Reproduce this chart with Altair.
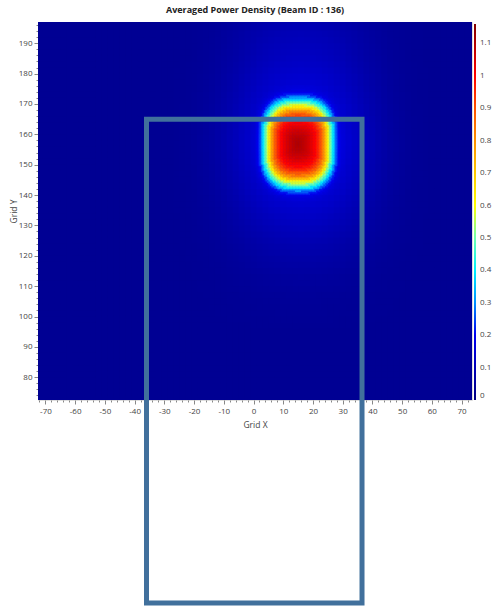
import altair as alt
import pandas as pd

# ---- axis ranges / labels ----
x_domain = [-72.5, 73.5]
y_domain = [72.5, 197.0]
x_tick_values = list(range(-72, 74, 2))
y_tick_values = list(range(74, 198, 2))
legend_values = [0, 0.1, 0.2, 0.3, 0.4, 0.5, 0.6, 0.7, 0.8, 0.9, 1, 1.1]

# ---- colour map (jet-like) ----
color_stops = [0, 0.1, 0.2, 0.3, 0.4, 0.5, 0.6, 0.7, 0.8, 0.9, 1.0, 1.16]
color_range = ["#00007f", "#0000b8", "#0000f0", "#0090ff", "#00f0ff", "#70ffb0",
               "#ffff00", "#ffc800", "#ff9000", "#ff5000", "#ff0000", "#800000"]

# ---- background level and broad halo ----
base_level = 0.035
halo_peak = 0.17
halo_center = (16, 157)
# halo profile by |dx| in steps of 2 grid units
halo_x = [1.0, 0.99, 0.97, 0.94, 0.90, 0.85, 0.79, 0.72, 0.64, 0.56, 0.48,
          0.40, 0.33, 0.26, 0.20, 0.15, 0.11, 0.08, 0.05, 0.03, 0.02, 0.01, 0.0]
# halo profile above / below the beam centre, steps of 2 grid units
halo_y_up = [1.0, 0.99, 0.97, 0.94, 0.90, 0.86, 0.82, 0.78, 0.74, 0.70, 0.66,
             0.62, 0.58, 0.54, 0.50, 0.47, 0.44, 0.41, 0.38, 0.35, 0.32]
halo_y_down = [1.0, 0.99, 0.97, 0.94, 0.90, 0.86, 0.82, 0.78, 0.73, 0.68, 0.63,
               0.58, 0.53, 0.48, 0.43, 0.38, 0.33, 0.29, 0.25, 0.21, 0.18,
               0.15, 0.12, 0.10, 0.08, 0.06, 0.05, 0.04, 0.03, 0.02, 0.01, 0.0]

# ---- main beam spot ----
beam_peak = 1.10
beam_center = (15.0, 156.8)
beam_aspect_y = 1.22      # spot is taller than wide
beam_shape_power = 2.8    # rounded-square contour
# radial profile of the spot, sampled every 0.5 grid units from the centre
beam_profile = [1.000, 0.998, 0.993, 0.987, 0.980, 0.972, 0.963, 0.953, 0.942,
                0.930, 0.917, 0.902, 0.885, 0.862, 0.835, 0.800, 0.760, 0.710,
                0.650, 0.580, 0.500, 0.430, 0.370, 0.310, 0.240, 0.170, 0.110,
                0.065, 0.035, 0.018, 0.008, 0.003, 0.0]

# ---- overlay rectangle ----
box_x = [-36.0, 36.5]
box_y = [5.6, 165.0]


def pick(arr, i):
    return arr[i] if 0 <= i < len(arr) else 0.0


def halo_value(cx, cy):
    hx = pick(halo_x, abs(cx - halo_center[0]) // 2)
    dy = cy - halo_center[1]
    hy = pick(halo_y_up, dy // 2) if dy >= 0 else pick(halo_y_down, (-dy) // 2)
    return base_level + halo_peak * hx * hy


rows = []
ov = 0.3
for cx in range(-72, 75, 2):
    for cy in range(73, 198, 2):
        rows.append(dict(x=cx - 1, x2=cx + 1 + ov, y=cy - 1, y2=cy + 1 + ov,
                         v=halo_value(cx, cy)))

step = 0.5
for i in range(int(-6 / step), int(36 / step)):
    gx = i * step
    for j in range(int(130 / step), int(184 / step)):
        gy = j * step
        dx = abs(gx + step / 2 - beam_center[0])
        dy = abs(gy + step / 2 - beam_center[1]) / beam_aspect_y
        r = (dx ** beam_shape_power + dy ** beam_shape_power) ** (1 / beam_shape_power)
        f = pick(beam_profile, int(round(r / 0.5)))
        if f <= 0:
            continue
        bx = int(gx // 1)
        by = int(gy // 1)
        b = halo_value(bx + (bx % 2), by + (1 - by % 2))
        rows.append(dict(x=gx, x2=gx + step + 0.15, y=gy, y2=gy + step + 0.15,
                         v=b + (beam_peak - b) * f))
df = pd.DataFrame(rows)

box_df = pd.DataFrame([dict(x=box_x[0], x2=box_x[1], y=box_y[0], y2=box_y[1])])

font = "Open Sans"
label_color = "#444444"
label_expr = "datum.value % 10 === 0 ? '' + datum.value : ''"
tick_size = {"condition": {"test": "datum.value % 10 === 0", "value": 4}, "value": 2}


def make_axis(values, title, label_pad, title_pad, **kw):
    return alt.Axis(values=values, title=title, labelExpr=label_expr,
                    tickSize=tick_size, tickColor="#888888", domain=False, grid=False,
                    labelOverlap=False, labelFlush=False, labelFontSize=8,
                    labelColor=label_color, labelFont=font, labelPadding=label_pad,
                    titleFontSize=8.5, titleFontWeight="normal", titleColor=label_color,
                    titleFont=font, titlePadding=title_pad, **kw)


xs = alt.Scale(domain=x_domain, nice=False, zero=False)
ys = alt.Scale(domain=y_domain, nice=False, zero=False)


def x_axis():
    return make_axis(x_tick_values, "Grid X", 3, 5)


def y_axis():
    return make_axis(y_tick_values, "Grid Y", 2, 1, titleX=-20)


heat = alt.Chart(df).mark_rect(clip=True, strokeWidth=0).encode(
    x=alt.X("x:Q", scale=xs, axis=x_axis()),
    x2="x2:Q",
    y=alt.Y("y:Q", scale=ys, axis=y_axis()),
    y2="y2:Q",
    color=alt.Color("v:Q",
                    scale=alt.Scale(domain=color_stops, range=color_range, interpolate="rgb"),
                    legend=alt.Legend(orient="none", legendX=436, legendY=2, direction="vertical",
                                      gradientLength=376, gradientThickness=2,
                                      gradientStrokeWidth=0, values=legend_values,
                                      labelExpr="'' + datum.value",
                                      labelFontSize=8, labelColor=label_color, labelFont=font,
                                      labelOffset=4, labelBaseline="middle", title=None,
                                      labelOverlap=False)),
)

box = alt.Chart(box_df).mark_rect(filled=False, stroke="#41709c", strokeWidth=5).encode(
    x=alt.X("x:Q", scale=xs, axis=x_axis()),
    x2="x2:Q",
    y=alt.Y("y:Q", scale=ys, axis=y_axis()),
    y2="y2:Q",
)

chart = alt.layer(heat, box).properties(
    width=434, height=378,
    title=alt.Title("Averaged Power Density (Beam ID : 136)", fontSize=9, fontWeight="bold",
                    font=font, color="#222222", anchor="middle", offset=6),
    autosize=alt.AutoSizeParams(type="none"),
    padding={"left": 38, "top": 22, "right": 22, "bottom": 207},
).configure_view(strokeWidth=0).configure_axis(labelOverlap=False).configure(background="white")

chart.save("out.html", embed_options={"renderer": "svg", "actions": False})
